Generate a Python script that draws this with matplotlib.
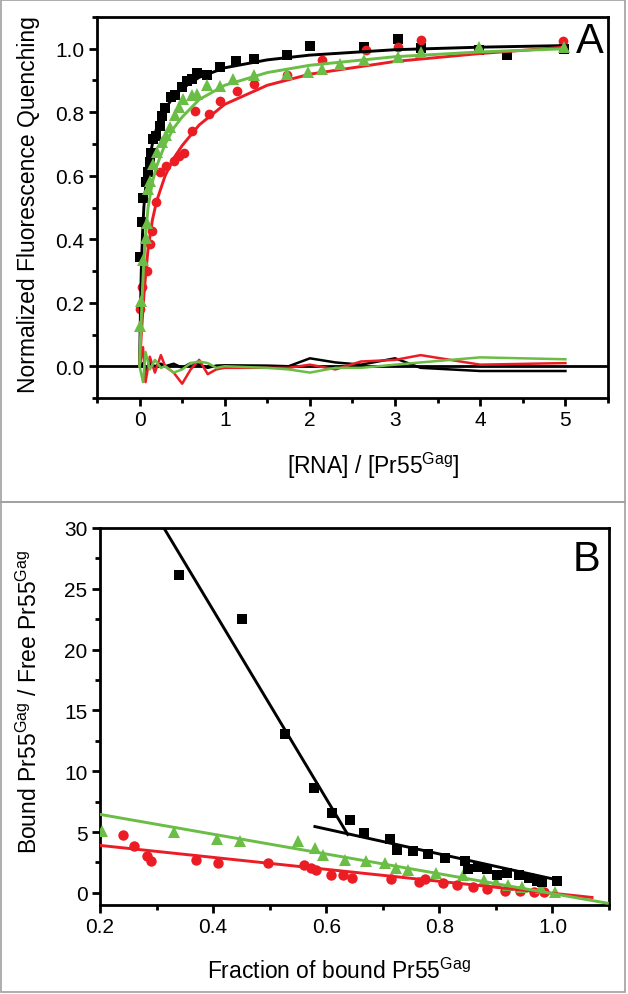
import matplotlib
matplotlib.use("Agg")
import matplotlib.pyplot as plt
from matplotlib.patches import Rectangle
from matplotlib.ticker import MultipleLocator

plt.rcParams['font.family'] = ['Liberation Sans', 'DejaVu Sans']
plt.rcParams['mathtext.fontset'] = 'custom'
plt.rcParams['mathtext.rm'] = 'Liberation Sans'
plt.rcParams['mathtext.it'] = 'Liberation Sans:italic'

BLACK = '#000000'
RED = '#ec1c24'
GREEN = '#6abd45'

# ---------------- panel A: titration ----------------
a_blk_x = [0.005, 0.023, 0.043, 0.07, 0.097, 0.12, 0.137, 0.16, 0.187, 0.238, 0.265, 0.304, 0.371,
           0.42, 0.5, 0.558, 0.617, 0.675, 0.79, 0.95, 1.136, 1.34, 1.73, 2.0, 2.63, 3.03, 3.31,
           3.98, 4.31, 4.98]
a_blk_y = [0.344, 0.455, 0.529, 0.58, 0.613, 0.642, 0.672, 0.716, 0.726, 0.758, 0.788, 0.813, 0.848,
           0.853, 0.879, 0.90, 0.905, 0.924, 0.918, 0.942, 0.96, 0.968, 0.979, 1.01, 1.005, 1.03, 1.002,
           0.995, 0.979, 1.0]

a_red_x = [0.01, 0.03, 0.09, 0.12, 0.15, 0.187, 0.238, 0.316, 0.40, 0.46, 0.52, 0.617, 0.656, 0.81,
           0.94, 1.14, 1.34, 1.73, 2.14, 2.66, 3.04, 3.31, 4.97]
a_red_y = [0.18, 0.25, 0.30, 0.385, 0.427, 0.516, 0.611, 0.632, 0.648, 0.663, 0.672, 0.742, 0.805, 0.795,
           0.837, 0.868, 0.89, 0.918, 0.963, 0.995, 1.005, 1.026, 1.023]

a_grn_x = [0.0, 0.02, 0.04, 0.07, 0.085, 0.097, 0.12, 0.16, 0.207, 0.265, 0.316, 0.363, 0.42, 0.46,
           0.51, 0.617, 0.675, 0.79, 0.94, 1.1, 1.34, 1.73, 1.98, 2.14, 2.35, 2.63, 3.03, 3.31, 3.98, 4.98]
a_grn_y = [0.126, 0.206, 0.335, 0.405, 0.45, 0.558, 0.585, 0.637, 0.674, 0.705, 0.727, 0.753, 0.79, 0.816,
           0.842, 0.853, 0.858, 0.886, 0.882, 0.905, 0.916, 0.921, 0.926, 0.937, 0.953, 0.963, 0.974, 0.99,
           1.005, 1.005]

# fitted curves
fit_x = [0, 0.01, 0.02, 0.035, 0.05, 0.075, 0.1, 0.15, 0.2, 0.3, 0.4, 0.5, 0.7, 1.0, 1.5, 2.0, 3.0, 4.0, 5.0]
fit_blk = [0.0, 0.17, 0.3, 0.42, 0.5, 0.575, 0.63, 0.7, 0.75, 0.81, 0.85, 0.875, 0.91, 0.94, 0.965, 0.98,
           0.997, 1.005, 1.01]
fit_red = [0.0, 0.05, 0.1, 0.16, 0.22, 0.3, 0.37, 0.46, 0.52, 0.6, 0.655, 0.695, 0.76, 0.825, 0.885, 0.92,
           0.96, 0.985, 1.005]
fit_grn = [0.0, 0.08, 0.15, 0.25, 0.33, 0.43, 0.5, 0.58, 0.63, 0.7, 0.75, 0.785, 0.84, 0.885, 0.925, 0.948,
           0.975, 0.99, 1.0]

# residuals
res_x = [0, 0.04, 0.07, 0.12, 0.18, 0.25, 0.3, 0.4, 0.5, 0.6, 0.7, 0.8, 0.9, 1.0, 1.5, 1.75, 2.0, 2.3, 2.6,
         3.0, 3.3, 4.0, 5.0]
res_blk = [0, 0.01, -0.015, 0.01, 0.0, 0.008, 0.0, 0.008, -0.005, 0.01, 0.005, -0.005, 0.002, 0.003, 0.002,
           0.0, 0.025, 0.012, 0.005, 0.025, -0.005, -0.015, -0.015]
res_red = [0, 0.06, -0.05, 0.03, -0.02, 0.035, 0.0, -0.02, -0.055, -0.01, 0.02, -0.025, -0.01, -0.005,
           -0.005, -0.005, 0.005, -0.01, 0.015, 0.02, 0.035, 0.005, 0.01]
res_grn = [0, -0.05, 0.045, -0.01, 0.02, -0.005, 0.0, -0.02, -0.01, 0.01, 0.015, 0.01, -0.005, 0.0, -0.005,
           -0.01, -0.02, -0.005, -0.005, 0.005, 0.012, 0.028, 0.022]

# ---------------- panel B: Scatchard ----------------
b_blk_x = [0.34, 0.451, 0.527, 0.578, 0.611, 0.642, 0.666, 0.713, 0.726, 0.754, 0.78, 0.81, 0.845, 0.851,
           0.869, 0.884, 0.902, 0.919, 0.94, 0.958, 0.973, 0.982, 1.008]
b_blk_y = [26.1, 22.5, 13.1, 8.6, 6.55, 6.0, 4.95, 4.43, 3.55, 3.4, 3.2, 2.88, 2.58, 2.0, 2.12, 1.95, 1.48,
           1.65, 1.48, 1.25, 0.97, 0.93, 0.97]

b_grn_x = [0.2035, 0.331, 0.406, 0.447, 0.55, 0.58, 0.594, 0.633, 0.67, 0.704, 0.724, 0.745, 0.794, 0.842,
           0.879, 0.9, 0.922, 0.947, 0.98, 1.004]
b_grn_y = [5.05, 5.03, 4.44, 4.23, 4.23, 3.68, 3.08, 2.72, 2.62, 2.48, 2.03, 1.9, 1.6, 1.48, 1.07, 0.93,
           0.66, 0.52, 0.39, 0.11]

b_red_x = [0.241, 0.26, 0.283, 0.29, 0.37, 0.408, 0.497, 0.561, 0.573, 0.582, 0.608, 0.63, 0.645, 0.714,
           0.764, 0.775, 0.806, 0.832, 0.86, 0.885, 0.916, 0.943, 0.968, 0.985]
b_red_y = [4.78, 3.82, 3.0, 2.65, 2.68, 2.48, 2.45, 2.27, 2.06, 1.87, 1.48, 1.48, 1.21, 1.17, 0.89, 1.14,
           0.8, 0.62, 0.5, 0.35, 0.16, 0.13, 0.07, 0.1]

# linear fits (end points)
b_fit_blk1_x, b_fit_blk1_y = [0.313, 0.638], [30.0, 4.8]
b_fit_blk2_x, b_fit_blk2_y = [0.58, 1.0], [5.45, 1.15]
b_fit_grn_x, b_fit_grn_y = [0.2, 1.097], [6.45, -0.85]
b_fit_red_x, b_fit_red_y = [0.2, 1.07], [3.9, -0.38]

W, H = 628, 995
fig = plt.figure(figsize=(W / 100, H / 100), dpi=100)


def style_axes(ax):
    for s in ax.spines.values():
        s.set_linewidth(2.0)
    ax.tick_params(which='both', direction='out', width=2.0, labelsize=15, pad=3,
                   top=False, right=False)
    ax.tick_params(which='major', length=6)
    ax.tick_params(which='minor', length=3.5)


def px_axes(left, top, right, bottom):
    return fig.add_axes([left / W, 1 - bottom / H, (right - left) / W, (bottom - top) / H])


# panel A
axA = px_axes(97, 18, 608, 399)
style_axes(axA)
axA.axhline(0, color=BLACK, lw=2.0, zorder=2)
axA.plot(res_x, res_blk, color=BLACK, lw=1.8, zorder=3)
axA.plot(res_x, res_red, color=RED, lw=1.8, zorder=3)
axA.plot(res_x, res_grn, color=GREEN, lw=1.8, zorder=3)
axA.plot(a_blk_x, a_blk_y, 's', color=BLACK, ms=6.5, mew=0, zorder=4)
axA.plot(a_red_x, a_red_y, 'o', color=RED, ms=7, mew=0, zorder=4)
axA.plot(a_grn_x, a_grn_y, '^', color=GREEN, ms=8, mew=0, zorder=6)
axA.plot(fit_x, fit_blk, color=BLACK, lw=2.1, zorder=5)
axA.plot(fit_x, fit_red, color=RED, lw=2.1, zorder=5)
axA.plot(fit_x, fit_grn, color=GREEN, lw=2.1, zorder=7)
axA.set_xlim(-0.5, 5.5)
axA.set_ylim(-0.1, 1.1)
axA.xaxis.set_major_locator(MultipleLocator(1))
axA.xaxis.set_minor_locator(MultipleLocator(0.5))
axA.yaxis.set_major_locator(MultipleLocator(0.2))
axA.yaxis.set_minor_locator(MultipleLocator(0.1))
axA.yaxis.set_major_formatter(lambda v, p: f'{v:.1f}')
axA.set_xlabel('[RNA] / [Pr55$^{\\rm Gag}$]', fontsize=16.5)
axA.set_ylabel('Normalized Fluorescence Quenching', fontsize=16.5)
axA.xaxis.set_label_coords(0.54, -0.135)
axA.yaxis.set_label_coords(-0.112, 0.51)
axA.text(0.965, 0.937, 'A', transform=axA.transAxes, fontsize=30, ha='center', va='center')

# panel B
axB = px_axes(100, 529, 609, 906)
style_axes(axB)
axB.plot(b_red_x, b_red_y, 'o', color=RED, ms=7.5, mew=0, zorder=3)
axB.plot(b_grn_x, b_grn_y, '^', color=GREEN, ms=8.5, mew=0, zorder=4)
axB.plot(b_blk_x, b_blk_y, 's', color=BLACK, ms=7.5, mew=0, zorder=5)
axB.plot(b_fit_red_x, b_fit_red_y, color=RED, lw=2.1, zorder=6)
axB.plot(b_fit_grn_x, b_fit_grn_y, color=GREEN, lw=2.1, zorder=6)
axB.plot(b_fit_blk1_x, b_fit_blk1_y, color=BLACK, lw=2.1, zorder=6)
axB.plot(b_fit_blk2_x, b_fit_blk2_y, color=BLACK, lw=2.1, zorder=6)
axB.set_xlim(0.2, 1.1)
axB.set_ylim(-1, 30)
axB.xaxis.set_major_locator(MultipleLocator(0.2))
axB.xaxis.set_minor_locator(MultipleLocator(0.1))
axB.yaxis.set_major_locator(MultipleLocator(5))
axB.yaxis.set_minor_locator(MultipleLocator(2.5))
axB.xaxis.set_major_formatter(lambda v, p: f'{v:.1f}')
axB.set_xlabel('Fraction of bound Pr55$^{\\rm Gag}$', fontsize=16.5)
axB.set_ylabel('Bound Pr55$^{\\rm Gag}$ / Free Pr55$^{\\rm Gag}$', fontsize=16.5)
axB.xaxis.set_label_coords(0.47, -0.14)
axB.yaxis.set_label_coords(-0.114, 0.54)
axB.text(0.955, 0.918, 'B', transform=axB.transAxes, fontsize=30, ha='center', va='center')

# grey frames around the two panels
for top, bot in [(1, 503), (503, 993)]:
    fig.add_artist(Rectangle((1 / W, 1 - bot / H), 624 / W, (bot - top) / H, transform=fig.transFigure,
                             fill=False, edgecolor='#a0a0a0', lw=1.2))

fig.savefig('out.png', dpi=100)
